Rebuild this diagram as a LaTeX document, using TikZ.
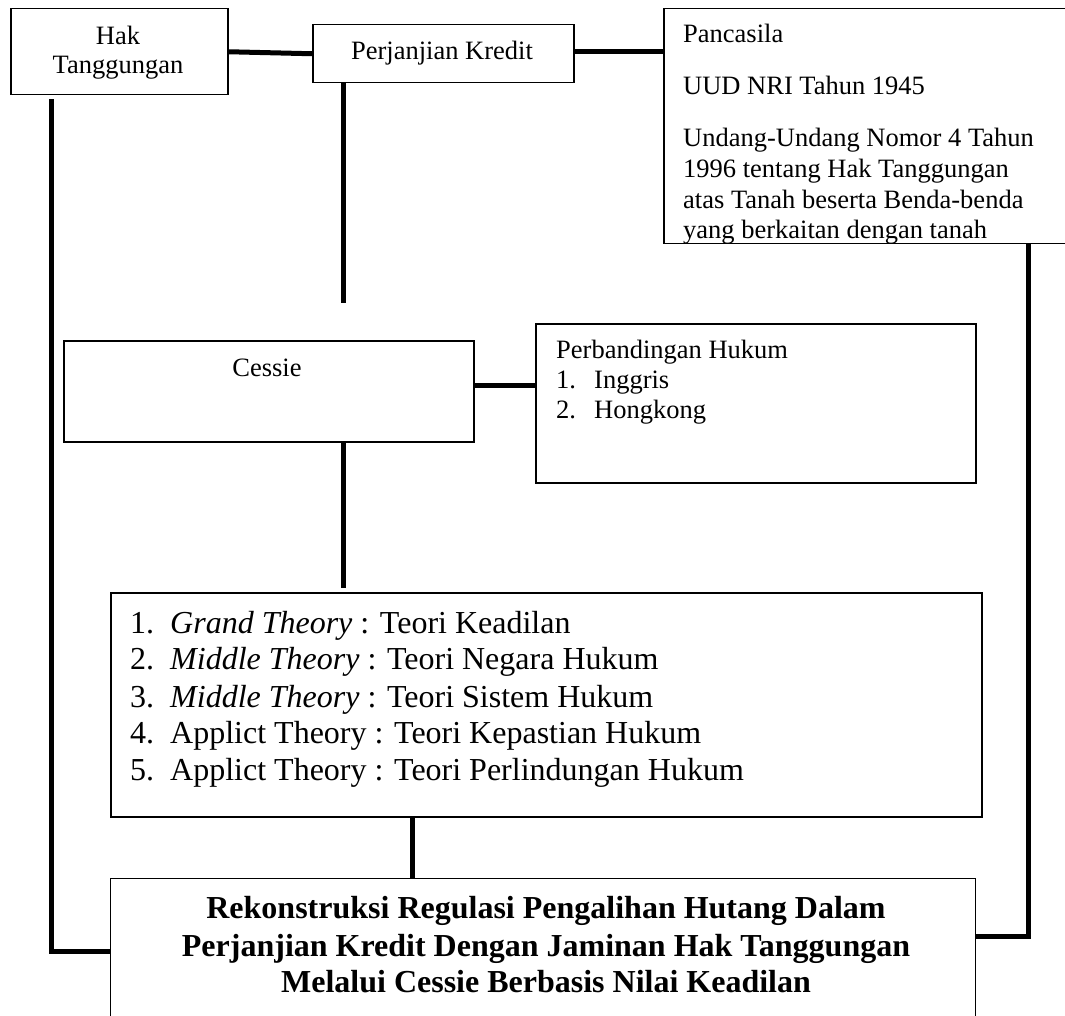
\documentclass[tikz,border=0pt]{standalone}
\usepackage{fontspec}
\setmainfont{Liberation Serif}
\newcommand{\fsA}{\fontsize{26.5}{30}\selectfont}
\newcommand{\fsB}{\fontsize{32}{37}\selectfont}
\begin{document}
\begin{tikzpicture}[x=1pt,y=-1pt,
  box/.style={draw, line width=1.5pt, inner sep=0pt, anchor=north west},
  link/.style={line width=5pt},
  txt/.style={inner sep=0pt, anchor=base west, font=\fsA},
  ctxt/.style={inner sep=0pt, anchor=base, font=\fsA},
  ttxt/.style={inner sep=0pt, anchor=base west, font=\fsB},
  btxt/.style={inner sep=0pt, anchor=base, font=\fsB\bfseries}]
\useasboundingbox (0,0) rectangle (1065,1016);
\clip (0,0) rectangle (1065,1016);
\fill[white] (0,0) rectangle (1065,1016);
% boxes
\node[box, minimum width=217pt, minimum height=86pt] (hak) at (10,8) {};
\node[box, minimum width=261pt, minimum height=58pt] (pk) at (312,24) {};
\node[box, minimum width=420pt, minimum height=235pt] (pan) at (663,8) {};
\node[box, minimum width=410pt, minimum height=101pt] (ces) at (63,340) {};
\node[box, minimum width=440pt, minimum height=159pt] (per) at (535,323) {};
\node[box, minimum width=871pt, minimum height=224pt] (th) at (110,592) {};
\node[box, line width=1.2pt, minimum width=865pt, minimum height=170pt] (bot) at (110,878) {};
% texts
\node[ctxt] (t1) at (118,45) {Hak};
\node[ctxt] (t2) at (118,74) {Tanggungan};
\node[ctxt] (t3) at (442,60) {Perjanjian Kredit};
\node[txt] (p1) at (683,43) {Pancasila};
\node[txt] (p2) at (683,95) {UUD NRI Tahun 1945};
\node[txt] (p3) at (683,147) {Undang-Undang Nomor 4 Tahun};
\node[txt] (p4) at (683,178) {1996 tentang Hak Tanggungan};
\node[txt] (p5) at (683,209) {atas Tanah beserta Benda-benda};
\node[txt] (p6) at (683,239) {yang berkaitan dengan tanah};
\node[ctxt] (c1) at (267,376) {Cessie};
\node[txt] (h1) at (556,358) {Perbandingan Hukum};
\node[txt] (h2n) at (556,388) {1.};
\node[txt] (h2) at (594,388) {Inggris};
\node[txt] (h3n) at (556,418) {2.};
\node[txt] (h3) at (594,418) {Hongkong};
\node[ttxt] (n1) at (130,633) {1.};
\node[ttxt] (r1) at (170,633) {\textit{Grand Theory} : Teori Keadilan};
\node[ttxt] (n2) at (130,669) {2.};
\node[ttxt] (r2) at (170,669) {\textit{Middle Theory} : Teori Negara Hukum};
\node[ttxt] (n3) at (130,707) {3.};
\node[ttxt] (r3) at (170,707) {\textit{Middle Theory} : Teori Sistem Hukum};
\node[ttxt] (n4) at (130,743) {4.};
\node[ttxt] (r4) at (170,743) {Applict Theory : Teori Kepastian Hukum};
\node[ttxt] (n5) at (130,780) {5.};
\node[ttxt] (r5) at (170,780) {Applict Theory : Teori Perlindungan Hukum};
\node[btxt] (b1) at (546,918) {Rekonstruksi Regulasi Pengalihan Hutang Dalam};
\node[btxt] (b2) at (546,956) {Perjanjian Kredit Dengan Jaminan Hak Tanggungan};
\node[btxt] (b3) at (546,992) {Melalui Cessie Berbasis Nilai Keadilan};
% connector helpers
\coordinate (a1) at (343,303);
\coordinate (yc) at (0,385);
\coordinate (yp) at (0,52);
\coordinate (xb) at (412,0);
\coordinate (L) at (51,951);
\coordinate (R) at (1028,936);
% connectors
\draw[link] (hak.east) -- (pk.west);
\draw[link] (pk.east |- yp) -- (pan.west |- yp);
\draw[link] (a1 |- pk.south) -- (a1);
\draw[link] (ces.east |- yc) -- (per.west |- yc);
\draw[link] (ces.south -| a1) -- ([yshift=4pt]th.north -| a1);
\draw[link] (th.south -| xb) -- (bot.north -| xb);
\draw[link] ([yshift=-4pt]L |- hak.south) -- (L) -- (L -| bot.west);
\draw[link] (R |- pan.south) -- (R) -- (R -| bot.east);
\end{tikzpicture}
\end{document}
